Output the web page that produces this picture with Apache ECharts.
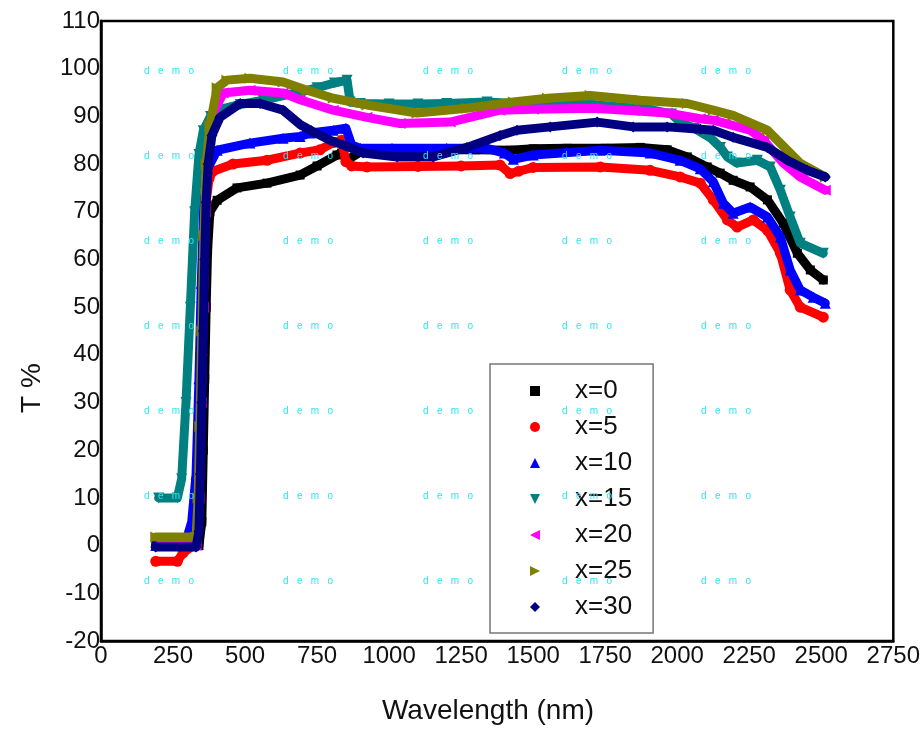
<!DOCTYPE html>
<html>
<head>
<meta charset="utf-8">
<script src="https://cdn.jsdelivr.net/npm/echarts@6/dist/echarts.min.js"></script>
<style>html,body{margin:0;padding:0;background:#fff}#c{width:923px;height:751px}</style>
</head>
<body>
<div id="c"></div>
<script>
// ---- data ----
const seriesNames = ['x=0', 'x=5', 'x=10', 'x=15', 'x=20', 'x=25', 'x=30'];

const wl0 = [190, 250, 300, 340, 350, 355, 360, 365, 370, 378, 403, 472, 576, 691, 750, 819, 835, 858, 900, 1000, 1100, 1200, 1300, 1420, 1500, 1618, 1750, 1872, 1965, 2035, 2104, 2149, 2194, 2253, 2313, 2368, 2417, 2462, 2507];
const t0  = [0, 0, 0, 0, 5, 20, 35, 50, 62, 70, 72.4, 75, 76, 77.7, 79.6, 81.9, 82.3, 81, 82.5, 82.8, 83, 83, 83, 82.9, 83.2, 83.3, 83.3, 83.5, 83, 81.5, 79.4, 78.1, 76.6, 75.2, 72.5, 67.6, 61.3, 57.8, 55.7];

const wl5 = [190, 265, 285, 320, 335, 343, 350, 357, 365, 375, 389, 458, 576, 691, 760, 806, 835, 850, 870, 923, 1100, 1250, 1385, 1420, 1450, 1500, 1733, 1906, 2010, 2080, 2125, 2174, 2208, 2264, 2313, 2358, 2392, 2427, 2507];
const t5  = [-3.3, -3.3, -1.5, 0, 5, 20, 40, 60, 72, 77, 78.5, 80, 80.8, 82.3, 83, 84.5, 85, 80.5, 79.6, 79.4, 79.5, 79.6, 79.8, 78, 78.5, 79.3, 79.4, 78.7, 77.3, 76, 72.5, 68.3, 66.8, 68.3, 66.1, 61.3, 53.6, 50, 47.9];

const wl10 = [190, 250, 290, 300, 315, 330, 340, 348, 357, 370, 403, 517, 632, 691, 726, 806, 850, 870, 900, 1010, 1200, 1340, 1400, 1431, 1500, 1733, 1906, 2010, 2080, 2125, 2160, 2194, 2253, 2313, 2358, 2392, 2427, 2472, 2514];
const t10  = [0, 0, 1, 2, 5, 15, 35, 55, 72, 79, 82.9, 84.4, 85.4, 85.8, 86.5, 87.1, 87.5, 84, 83.3, 83.3, 83.3, 83.3, 82.3, 81, 81.9, 82.9, 82.3, 80.8, 79, 76.3, 71.8, 69.7, 71, 68.9, 64.7, 57.8, 53.6, 52.1, 50.8];

const wl15 = [200, 265, 280, 295, 310, 325, 340, 355, 380, 403, 483, 563, 680, 750, 810, 854, 865, 900, 1000, 1100, 1200, 1340, 1500, 1700, 1900, 1980, 2010, 2060, 2115, 2150, 2174, 2208, 2278, 2323, 2358, 2392, 2427, 2507];
const t15  = [10, 10, 14, 30, 50, 70, 82, 87, 90, 91.3, 92.5, 93.4, 95, 96, 97, 97.6, 93, 92.7, 92.6, 92.6, 92.7, 93, 92.5, 92.5, 91.5, 90.5, 88.8, 87.5, 85.5, 83.5, 81.5, 80.2, 80.8, 79.4, 74.5, 68.9, 63.4, 61.3];

const wl20 = [200, 330, 340, 348, 355, 362, 370, 385, 424, 517, 632, 691, 806, 923, 1038, 1212, 1385, 1500, 1708, 1850, 1965, 2080, 2125, 2253, 2300, 2368, 2427, 2514];
const t20  = [0, 0, 10, 30, 50, 70, 82, 90, 94.9, 95.5, 94.9, 93.5, 91.3, 89.8, 88.5, 88.8, 91.3, 91.5, 91.7, 91.2, 90.7, 89.5, 89.2, 87.1, 85, 80.2, 77.3, 74.5];

const wl25 = [190, 330, 337, 343, 350, 357, 365, 378, 403, 437, 517, 632, 715, 806, 923, 1097, 1270, 1431, 1550, 1698, 1872, 2035, 2125, 2194, 2313, 2382, 2427, 2514];
const t25  = [1.8, 1.8, 10, 25, 45, 65, 80, 88, 96, 97.6, 98, 97.2, 95.5, 93.8, 92.4, 90.7, 91.7, 93, 93.8, 94.4, 93.4, 92.7, 91.3, 90.2, 87.1, 82.9, 80.2, 77.3];

const wl30 = [190, 330, 340, 345, 350, 355, 360, 365, 372, 385, 413, 483, 552, 632, 691, 730, 795, 850, 910, 1028, 1153, 1270, 1385, 1444, 1559, 1722, 1847, 1965, 2080, 2125, 2194, 2313, 2382, 2451, 2514];
const t30  = [-0.3, -0.3, 3, 15, 30, 45, 60, 72, 80, 86, 89.8, 92.7, 92.7, 91.3, 88.3, 87, 85, 83.8, 82.3, 81.5, 81.5, 83.5, 86, 87.1, 87.8, 88.8, 87.8, 87.8, 87.3, 87.1, 85.6, 83.5, 80.8, 78.7, 77.3];

const xTicks = {min: 0, max: 2750, interval: 250};
const yTicks = {min: -20, max: 110, interval: 10};

// ---- styling ----
const colors = ['#000000', '#ff0000', '#0000ff', '#008080', '#ff00ff', '#808000', '#000080'];
const symbols = ['rect', 'circle', 'triangle', 'path://M0,0L10,0L5,10Z', 'path://M10,0L10,10L0,5Z', 'path://M0,0L0,10L10,5Z', 'diamond'];

const wls = [wl0, wl5, wl10, wl15, wl20, wl25, wl30];
const ts = [t0, t5, t10, t15, t20, t25, t30];

const FONT = 'Liberation Sans, Arial, sans-serif';

const series = seriesNames.map((name, i) => ({
  name: name,
  type: 'line',
  data: wls[i].map((w, k) => [w, ts[i][k]]),
  symbol: symbols[i],
  symbolSize: i === 0 ? 9 : 11,
  showAllSymbol: true,
  color: colors[i],
  lineStyle: {width: 9, color: colors[i], cap: 'round', join: 'round'},
  itemStyle: {color: colors[i]},
  emphasis: {disabled: true},
  animation: false,
  z: 2 + i
}));

// watermark text positions (pixel grid of the reference image)
const wmX = [169, 308, 448, 587, 726];
const wmY = [71, 156, 241, 326, 411, 496, 581];
const graphics = [];
wmY.forEach(y => wmX.forEach(x => graphics.push({
  type: 'text', x: x, y: y, z: 100,
  style: {text: 'd   e   m   o', fill: '#2ee6f2', font: '10px ' + FONT, align: 'center', verticalAlign: 'middle'}
})));
graphics.push({
  type: 'text', x: 32, y: 388, rotation: Math.PI / 2, z: 50,
  style: {text: 'T %', fill: '#111', font: '28px ' + FONT, align: 'center', verticalAlign: 'middle'}
});
graphics.push({
  type: 'text', x: 488, y: 711, z: 50,
  style: {text: 'Wavelength (nm)', fill: '#111', font: '28px ' + FONT, align: 'center', verticalAlign: 'middle'}
});

const chart = echarts.init(document.getElementById('c'), null, {renderer: 'canvas'});
chart.setOption({
  animation: false,
  backgroundColor: '#ffffff',
  grid: {left: 101, right: 28, top: 21, bottom: 110, show: true, borderColor: '#000', borderWidth: 2.5, backgroundColor: 'transparent'},
  xAxis: {
    type: 'value', min: xTicks.min, max: xTicks.max, interval: xTicks.interval,
    axisLine: {show: true, onZero: false, lineStyle: {color: '#000', width: 2.5}},
    axisTick: {show: false},
    splitLine: {show: false},
    axisLabel: {color: '#111', fontSize: 24, fontFamily: FONT, margin: 3, formatter: v => String(v)}
  },
  yAxis: {
    type: 'value', min: yTicks.min, max: yTicks.max, interval: yTicks.interval,
    axisLine: {show: true, onZero: false, lineStyle: {color: '#000', width: 2.5}},
    axisTick: {show: false},
    splitLine: {show: false},
    axisLabel: {color: '#111', fontSize: 24, fontFamily: FONT, margin: 1, formatter: v => String(v)}
  },
  legend: {
    orient: 'vertical', left: 490, top: 364,
    padding: [14, 21, 13, 40],
    itemGap: 10, itemWidth: 10, itemHeight: 10,
    borderColor: '#777', borderWidth: 1.5, backgroundColor: '#fff',
    textStyle: {color: '#111', fontSize: 26, fontFamily: FONT, lineHeight: 26, padding: [0, 0, 0, 30]},
    data: seriesNames.map((n, i) => ({name: n, icon: symbols[i]})),
    selectedMode: false
  },
  graphic: graphics,
  series: series
});
</script>
</body>
</html>
